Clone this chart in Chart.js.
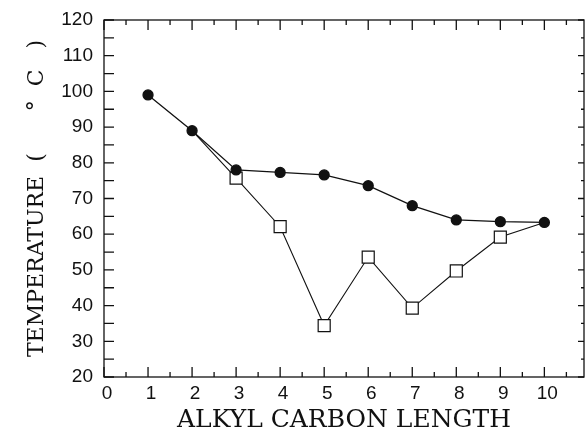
<!DOCTYPE html>
<html>
<head>
<meta charset="utf-8">
<script src="https://cdn.jsdelivr.net/npm/chart.js@4"></script>
<style>
  body { margin: 0; background: #fff; overflow: hidden; }
  canvas { display: block; }
</style>
</head>
<body>
<canvas id="tempchart" width="585" height="431"></canvas>
<script>
const carbons = [1, 2, 3, 4, 5, 6, 7, 8, 9, 10]
const circleTemps = [99, 89, 78, 77.3, 76.6, 73.6, 68, 64, 63.5, 63.3]
// open squares: series joins the circles at 2 and 10, no marker drawn there
const squareTemps = [null, 89, 75.7, 62.1, 34.4, 53.6, 39.3, 49.7, 59.2, 63.3]
const squareShown = [false, false, true, true, true, true, true, true, true, false]
const xTicks = [0, 1, 2, 3, 4, 5, 6, 7, 8, 9, 10]
const yTicks = [20, 30, 40, 50, 60, 70, 80, 90, 100, 110, 120]

const ink = '#111'

// frame + inward ticks, like the old plotter
const frameTicks = {
    id: 'frameTicks',
    afterDatasetsDraw(chart) {
        const ctx = chart.ctx
        const a = chart.chartArea
        const xs = chart.scales.x, ys = chart.scales.y
        ctx.save()
        ctx.strokeStyle = ink
        ctx.lineWidth = 1.3
        ctx.strokeRect(a.left, a.top, a.right - a.left, a.bottom - a.top)
        ctx.beginPath()
        for (let v = 0; v <= 10.5; v += 0.5) {
            const px = xs.getPixelForValue(v)
            const len = Number.isInteger(v) ? 10 : 5
            ctx.moveTo(px, a.bottom); ctx.lineTo(px, a.bottom - len)
            ctx.moveTo(px, a.top); ctx.lineTo(px, a.top + len)
        }
        for (let v = 20; v <= 120; v += 5) {
            const py = ys.getPixelForValue(v)
            ctx.moveTo(a.left, py); ctx.lineTo(a.left + 10, py)
            const len = v % 10 === 0 ? 6 : 3
            ctx.moveTo(a.right, py); ctx.lineTo(a.right - len, py)
        }
        ctx.stroke()
        ctx.restore()
    }
}

const mychart = new Chart(document.getElementById('tempchart'), {
    type: 'line',
    data: {
        datasets: [{
            data: carbons.map((c, i) => ({x: c, y: circleTemps[i]})),
            borderColor: ink,
            borderWidth: 1.3,
            pointStyle: 'circle',
            pointRadius: 5,
            pointBackgroundColor: ink,
            pointBorderColor: ink,
            order: 1
        }, {
            data: carbons.map((c, i) => ({x: c, y: squareTemps[i]})),
            borderColor: ink,
            borderWidth: 1.1,
            pointStyle: 'rect',
            pointRadius: squareShown.map(s => s ? 8.5 : 0),
            pointBackgroundColor: '#fff',
            pointBorderColor: ink,
            pointBorderWidth: 1.2,
            order: 2
        }]
    },
    options: {
        responsive: false,
        animation: false,
        layout: { autoPadding: false, padding: { top: 20, right: 1, left: 0, bottom: 0 } },
        plugins: {
            legend: { display: false },
            tooltip: { enabled: false }
        },
        scales: {
            x: {
                type: 'linear',
                min: 0, max: 10.9,
                grid: { display: false, drawTicks: false },
                border: { display: false },
                afterBuildTicks: s => { s.ticks = xTicks.map(v => ({value: v})) },
                afterFit: s => { s.height = 54; s.paddingLeft = 0; s.paddingRight = 0 },
                ticks: {
                    color: ink, padding: 5, labelOffset: 3,
                    font: { family: 'Liberation Sans', size: 19 }
                },
                title: {
                    display: true, text: 'ALKYL CARBON LENGTH', color: ink,
                    font: { family: 'DejaVu Serif', size: 25, lineHeight: 0.88 },
                    padding: { top: 0, bottom: 0 }
                }
            },
            y: {
                min: 20, max: 120,
                grid: { display: false, drawTicks: false },
                border: { display: false },
                afterBuildTicks: s => { s.ticks = yTicks.map(v => ({value: v})) },
                afterFit: s => { s.width = 104; s.paddingTop = 0; s.paddingBottom = 0 },
                ticks: {
                    color: ink, padding: 11,
                    font: { family: 'Liberation Sans', size: 19 }
                },
                title: {
                    display: true, text: 'TEMPERATURE  (      °  C   )', color: ink,
                    font: { family: 'DejaVu Serif', size: 22 },
                    padding: { top: 24, bottom: 0 }
                }
            }
        }
    },
    plugins: [frameTicks]
})
</script>
</body>
</html>
